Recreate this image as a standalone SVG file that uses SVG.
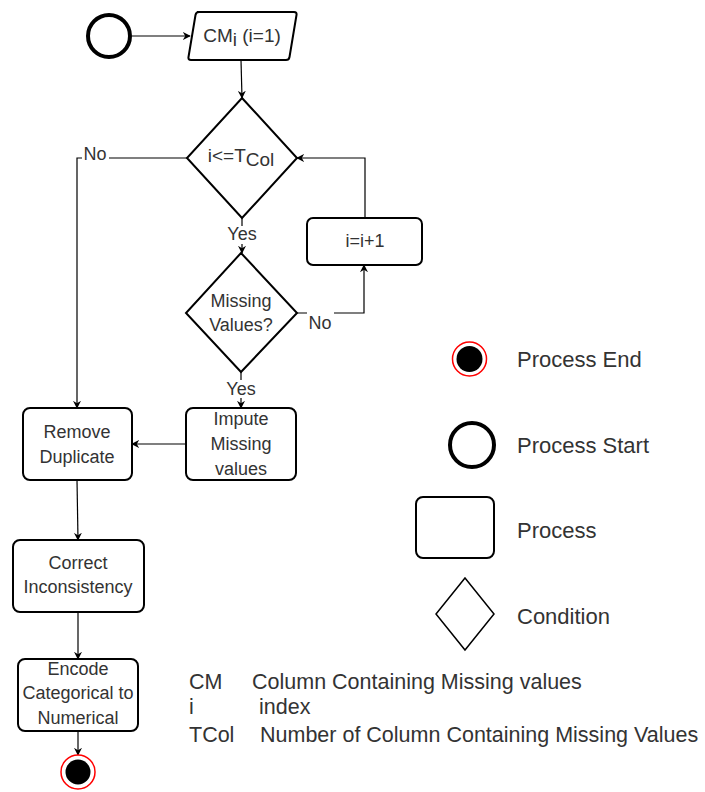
<svg xmlns="http://www.w3.org/2000/svg" width="705" height="792" viewBox="0 0 705 792">
<defs>
<style>
.node{fill:#fff;stroke:#000;stroke-width:2}
.t{font-family:"Liberation Sans",Arial,sans-serif;font-size:18px;fill:#333;text-anchor:middle}
.lg{font-family:"Liberation Sans",Arial,sans-serif;font-size:22px;fill:#333}
.c{fill:none;stroke:#000;stroke-width:1.2}
.bg{fill:#fff}
</style>
<marker id="ah" viewBox="0 0 10 10" refX="9" refY="5" markerWidth="8" markerHeight="8" markerUnits="userSpaceOnUse" orient="auto">
<path d="M0,0 L10,5 L0,10 L3,5 Z" fill="#000"/>
</marker>
</defs>
<rect width="705" height="792" fill="#fff"/>
<g id="connectors">
<line class="c" x1="132" y1="36" x2="190" y2="36" marker-end="url(#ah)"/>
<line class="c" x1="241" y1="60" x2="242" y2="98" marker-end="url(#ah)"/>
<polyline class="c" points="187,158 77,158 77,408" marker-end="url(#ah)"/>
<line class="c" x1="242" y1="218" x2="242" y2="253" marker-end="url(#ah)"/>
<polyline class="c" points="365,218 365,158 297,158" marker-end="url(#ah)"/>
<polyline class="c" points="297,313 364,313 364,265" marker-end="url(#ah)"/>
<line class="c" x1="241" y1="372" x2="241" y2="408" marker-end="url(#ah)"/>
<line class="c" x1="186" y1="444" x2="132" y2="444" marker-end="url(#ah)"/>
<line class="c" x1="77" y1="480" x2="78" y2="540" marker-end="url(#ah)"/>
<line class="c" x1="78" y1="612" x2="78" y2="659" marker-end="url(#ah)"/>
<line class="c" x1="78" y1="731" x2="78" y2="755" marker-end="url(#ah)"/>
<rect class="bg" x="82" y="145" width="27" height="18"/>
<text class="t" x="95" y="160">No</text>
<rect class="bg" x="226" y="226" width="32" height="18"/>
<text class="t" x="242" y="240">Yes</text>
<rect class="bg" x="307" y="310" width="27" height="22"/>
<text class="t" x="320" y="329">No</text>
<rect class="bg" x="225" y="380" width="32" height="18"/>
<text class="t" x="241" y="395">Yes</text>
</g>
<g id="start">
<circle cx="109" cy="36" r="21" fill="#fff" stroke="#000" stroke-width="4"/>
</g>
<g id="cm-init">
<path class="node" d="M197,12 L294,12 Q297,12 296.5,15 L289.5,57 Q289,60 286,60 L191,60 Q188,60 188.5,57 L195.5,15 Q196,12 199,12 Z"/>
<text class="t" x="242" y="42" style="font-size:19px">CM<tspan dy="4">i</tspan><tspan dy="-4"> (i=1)</tspan></text>
</g>
<g id="cond-tcol">
<polygon class="node" points="242,98 297,158 242,218 187,158"/>
<text class="t" x="241" y="162" style="font-size:19px">i&lt;=T<tspan dy="4">Col</tspan></text>
</g>
<g id="increment">
<rect class="node" x="307" y="218" width="115" height="47" rx="6"/>
<text class="t" x="365" y="247">i=i+1</text>
</g>
<g id="cond-missing">
<polygon class="node" points="241,253 297,313 241,372 186,313"/>
<text class="t" x="241" y="307">Missing</text>
<text class="t" x="241" y="331">Values?</text>
</g>
<g id="impute">
<rect class="node" x="186" y="408" width="110" height="72" rx="7"/>
<text class="t" x="241" y="425">Impute</text>
<text class="t" x="241" y="450">Missing</text>
<text class="t" x="241" y="475">values</text>
</g>
<g id="remove-dup">
<rect class="node" x="23" y="408" width="109" height="72" rx="7"/>
<text class="t" x="77" y="438">Remove</text>
<text class="t" x="77" y="463">Duplicate</text>
</g>
<g id="correct">
<rect class="node" x="13" y="540" width="131" height="72" rx="7"/>
<text class="t" x="78" y="569">Correct</text>
<text class="t" x="78" y="593">Inconsistency</text>
</g>
<g id="encode">
<rect class="node" x="18" y="659" width="120" height="72" rx="7"/>
<text class="t" x="78" y="675">Encode</text>
<text class="t" x="78" y="699">Categorical to</text>
<text class="t" x="78" y="724">Numerical</text>
</g>
<g id="end">
<circle cx="78" cy="772" r="17" fill="#fff" stroke="#f00" stroke-width="1.5"/>
<circle cx="78" cy="772" r="12.5" fill="#000"/>
</g>
<g id="legend">
<circle cx="469.5" cy="359" r="17" fill="#fff" stroke="#f00" stroke-width="1.5"/>
<circle cx="469.5" cy="359" r="13" fill="#000"/>
<text class="lg" x="517" y="367">Process End</text>
<circle cx="472" cy="445" r="22" fill="#fff" stroke="#000" stroke-width="4"/>
<text class="lg" x="517" y="453">Process Start</text>
<rect class="node" x="416" y="497" width="78" height="61" rx="7"/>
<text class="lg" x="517" y="538">Process</text>
<polygon fill="#fff" stroke="#000" stroke-width="1.5" points="465,578 494,614 465,650 436,614"/>
<text class="lg" x="517" y="624">Condition</text>
<text class="lg" x="189" y="689" style="font-size:21.5px">CM</text>
<text class="lg" x="252" y="689" style="font-size:21.5px">Column Containing Missing values</text>
<text class="lg" x="189" y="714" style="font-size:21.5px">i</text>
<text class="lg" x="259" y="714" style="font-size:21.5px">index</text>
<text class="lg" x="189" y="742" style="font-size:21.5px">TCol</text>
<text class="lg" x="260" y="742" style="font-size:21.5px">Number of Column Containing Missing Values</text>
</g>
</svg>
